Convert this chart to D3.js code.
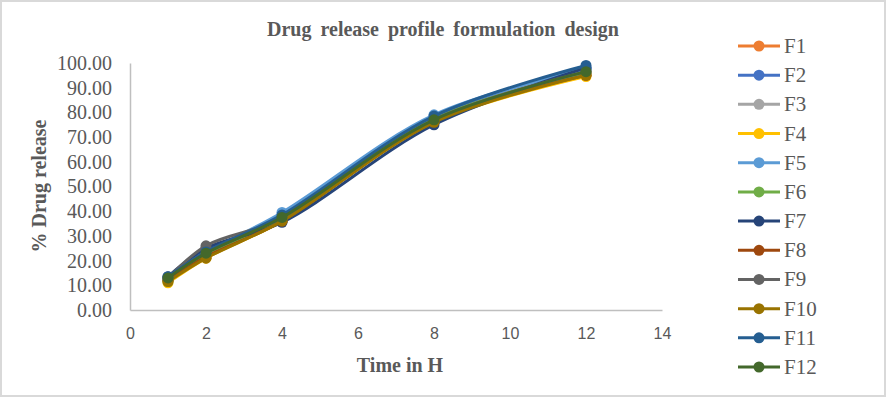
<!DOCTYPE html>
<html>
<head>
<meta charset="utf-8">
<script src="https://cdn.jsdelivr.net/npm/d3@7"></script>
<style>
  body { margin: 0; background: #fff; }
  svg { display: block; }
</style>
</head>
<body>
<svg id="chart" width="886" height="397"></svg>
<script>
width = 886
height = 397

// hours sampled
var times = [1, 2, 4, 8, 12]

// % drug release per formulation
var F1 = [12.5, 22.5, 37.0, 77.0, 96.0]
var F2 = [13.0, 24.0, 37.5, 78.0, 98.0]
var F3 = [12.0, 23.0, 36.5, 77.0, 97.0]
var F4 = [11.0, 21.0, 36.0, 76.0, 94.5]
var F5 = [12.5, 23.0, 39.5, 79.0, 97.5]
var F6 = [11.5, 22.0, 37.0, 77.5, 96.0]
var F7 = [13.5, 25.0, 35.5, 75.0, 98.0]
var F8 = [12.0, 21.5, 36.0, 76.5, 95.0]
var F9 = [13.0, 26.0, 37.0, 77.0, 96.5]
var F10 = [11.5, 21.0, 36.0, 76.0, 95.0]
var F11 = [13.5, 23.5, 38.5, 78.5, 99.0]
var F12 = [13.0, 23.0, 37.5, 77.0, 96.5]

var names = ["F1","F2","F3","F4","F5","F6","F7","F8","F9","F10","F11","F12"]
var values = [F1,F2,F3,F4,F5,F6,F7,F8,F9,F10,F11,F12]

// Excel office palette
var color = ["#ED7D31","#4472C4","#A5A5A5","#FFC000","#5B9BD5","#70AD47",
             "#264478","#9E480E","#636363","#997300","#255E91","#43682B"]

var xTicks = [0, 2, 4, 6, 8, 10, 12, 14]
var yTicks = [0, 10, 20, 30, 40, 50, 60, 70, 80, 90, 100]

var serif = "'Liberation Serif', 'Times New Roman', serif"
var sans = "'Liberation Sans', Arial, sans-serif"
var textColor = "#595959"

var svg = d3.select("#chart")

// chart border
svg.append("rect")
    .attr("x", 1)
    .attr("y", 1)
    .attr("width", width - 2)
    .attr("height", height - 2)
    .attr("fill", "#fff")
    .attr("stroke", "#d9d9d9")
    .attr("stroke-width", 2)

var x = d3.scaleLinear().domain([0, 14]).range([130, 662])
var y = d3.scaleLinear().domain([0, 100]).range([310, 63])

// title
svg.append("text")
    .attr("x", 443)
    .attr("y", 36)
    .attr("text-anchor", "middle")
    .attr("font-family", serif)
    .attr("font-weight", "bold")
    .attr("font-size", "20px")
    .attr("word-spacing", "4px")
    .attr("fill", textColor)
    .text("Drug release profile formulation design")

// y axis
var yAxis = svg.append("g")
    .attr("transform", "translate(" + x(0) + ",0)")
    .call(d3.axisLeft(y).tickValues(yTicks).tickSize(0).tickPadding(18)
        .tickFormat(function(d){ return d.toFixed(2) }))
yAxis.select(".domain").attr("stroke", "#bfbfbf").attr("stroke-width", 1.5)
yAxis.selectAll("text")
    .attr("font-family", serif)
    .attr("font-size", "20px")
    .attr("fill", textColor)

// x axis
var xAxis = svg.append("g")
    .attr("transform", "translate(0," + y(0) + ")")
    .call(d3.axisBottom(x).tickValues(xTicks).tickSize(0).tickPadding(18))
xAxis.select(".domain").attr("stroke", "#bfbfbf").attr("stroke-width", 1.5)
xAxis.selectAll("text")
    .attr("font-family", sans)
    .attr("font-size", "16px")
    .attr("fill", textColor)

// axis titles
svg.append("text")
    .attr("x", 400)
    .attr("y", 372)
    .attr("text-anchor", "middle")
    .attr("font-family", serif)
    .attr("font-weight", "bold")
    .attr("font-size", "20px")
    .attr("fill", textColor)
    .text("Time in H")

svg.append("text")
    .attr("transform", "translate(46,186) rotate(-90)")
    .attr("text-anchor", "middle")
    .attr("font-family", serif)
    .attr("font-weight", "bold")
    .attr("font-size", "20px")
    .attr("fill", textColor)
    .text("% Drug release")

// series
var line = d3.line()
    .x(function(d){ return x(d[0]) })
    .y(function(d){ return y(d[1]) })
    .curve(d3.curveCatmullRom.alpha(0.5))

names.forEach(function(name, i) {
    var pts = times.map(function(t, j){ return [t, values[i][j]] })
    var g = svg.append("g").attr("class", "series")
    g.append("path")
        .datum(pts)
        .attr("d", line)
        .attr("fill", "none")
        .attr("stroke", color[i])
        .attr("stroke-width", 3)
        .attr("stroke-linecap", "round")
    g.selectAll("circle")
        .data(pts)
        .enter().append("circle")
        .attr("cx", function(d){ return x(d[0]) })
        .attr("cy", function(d){ return y(d[1]) })
        .attr("r", 5.5)
        .attr("fill", color[i])
})

// legend
var legend = svg.append("g")
var ly = d3.scalePoint().domain(names).range([46, 367])
names.forEach(function(name, i) {
    var row = legend.append("g").attr("transform", "translate(0," + ly(name) + ")")
    row.append("line")
        .attr("x1", 738).attr("x2", 780)
        .attr("stroke", color[i])
        .attr("stroke-width", 3)
    row.append("circle")
        .attr("cx", 759)
        .attr("r", 5.5)
        .attr("fill", color[i])
    row.append("text")
        .attr("x", 784)
        .attr("y", 7)
        .attr("font-family", serif)
        .attr("font-size", "21px")
        .attr("fill", textColor)
        .text(name)
})
</script>
</body>
</html>
